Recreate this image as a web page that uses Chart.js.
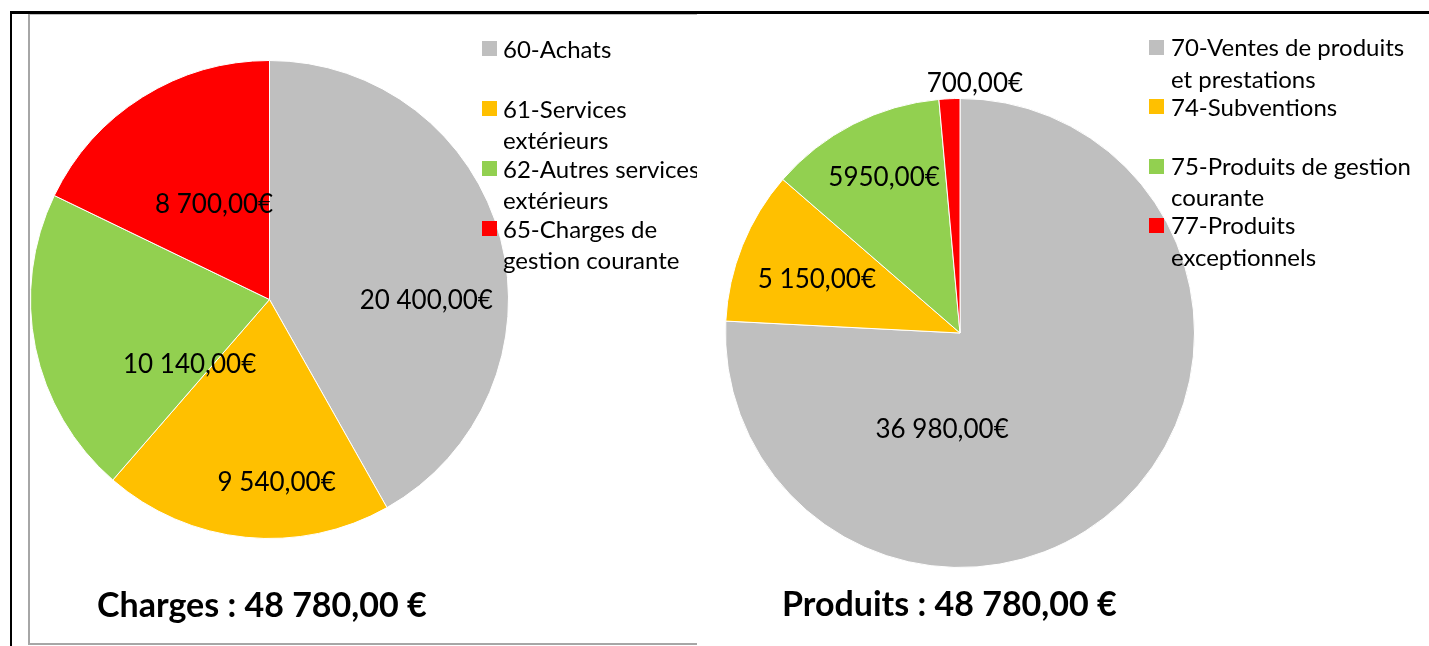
<!DOCTYPE html>
<html lang="fr">
<head>
<meta charset="utf-8">
<script src="https://cdn.jsdelivr.net/npm/chart.js@4/dist/chart.umd.min.js"></script>
<style>
  body { margin: 0; width: 1429px; height: 646px; position: relative; overflow: hidden; background: #fff; font-family: Lato, "Open Sans", sans-serif; }
  .panneau { position: absolute; top: 0; height: 646px; overflow: hidden; }
  #gauche { left: 0; width: 697px; }
  #droite { left: 697px; width: 732px; }
  .panneau canvas { position: absolute; left: 0; top: 0; }
  .legende { position: absolute; font-size: 24px; color: #000; white-space: nowrap; }
  .legende .carre { position: absolute; width: 15px; height: 15px; }
  .titre { position: absolute; font-weight: bold; font-size: 34px; line-height: 40px; color: #000; white-space: nowrap; }
  .trait { position: absolute; }
</style>
</head>
<body>
<div class="panneau" id="gauche"><canvas id="chartCharges" width="697" height="646"></canvas></div>
<div class="panneau" id="droite"><canvas id="chartProduits" width="732" height="646"></canvas></div>

<!-- cadres -->
<div class="trait" style="left:28px;top:14px;width:669px;height:1px;background:#bfbfbf"></div>
<div class="trait" style="left:28px;top:14px;width:2px;height:631px;background:#a6a6a6"></div>
<div class="trait" style="left:28px;top:643px;width:669px;height:2px;background:#a6a6a6"></div>
<div class="trait" style="left:10px;top:11px;width:1419px;height:3px;background:#000"></div>
<div class="trait" style="left:10px;top:11px;width:2px;height:635px;background:#000"></div>

<script>
// ---- données ----
const chargesCategories = [["60-Achats"], ["61-Services", "extérieurs"], ["62-Autres services", "extérieurs"], ["65-Charges de", "gestion courante"]];
const chargesValues = [20400, 9540, 10140, 8700];

const produitsCategories = [["70-Ventes de produits", "et prestations"], ["74-Subventions"], ["75-Produits de gestion", "courante"], ["77-Produits", "exceptionnels"]];
const produitsValues = [36980, 5150, 5950, 700];

const couleurs = ["#BFBFBF", "#FFC000", "#92D050", "#FF0000"];

// format "20 400,00"
function euros(v) {
  const parts = v.toFixed(2).split(".");
  return parts[0].replace(/\B(?=(\d{3})+(?!\d))/g, " ") + "," + parts[1];
}

const chargesTextes = chargesValues.map(v => euros(v) + "€");
const produitsTextes = produitsValues.map(v => euros(v) + "€");
produitsTextes[2] = "5950,00€"; // écrit ainsi dans l'original

// plugin pour les étiquettes de données (position relative au milieu de chaque part)
const etiquettesPlugin = {
  id: "etiquettes",
  afterDatasetsDraw(chart, args, opts) {
    const ctx = chart.ctx;
    const meta = chart.getDatasetMeta(0);
    ctx.save();
    ctx.font = "26px Lato, 'Open Sans', sans-serif";
    ctx.fillStyle = "#000";
    ctx.textAlign = "center";
    ctx.textBaseline = "middle";
    meta.data.forEach((arc, i) => {
      const a = (arc.startAngle + arc.endAngle) / 2 + opts.decalage[i] * Math.PI / 180;
      const r = arc.outerRadius * opts.rayon[i];
      ctx.fillText(opts.textes[i], arc.x + Math.cos(a) * r, arc.y + Math.sin(a) * r);
    });
    ctx.restore();
  }
};

function camembert(id, categories, values, padding, etiquettes) {
  const ctx = document.getElementById(id).getContext("2d");
  return new Chart(ctx, {
    type: "pie",
    data: {
      labels: categories.map(c => c.join(" ")),
      datasets: [{
        data: values,
        backgroundColor: couleurs,
        borderColor: "#ffffff",
        borderWidth: 1
      }]
    },
    options: {
      responsive: false,
      animation: false,
      devicePixelRatio: 1,
      layout: { padding: padding },
      plugins: {
        legend: { display: false },
        tooltip: { enabled: false },
        etiquettes: etiquettes
      }
    },
    plugins: [etiquettesPlugin]
  });
}

camembert("chartCharges", chargesCategories, chargesValues,
  { left: 30, top: 60, right: 188, bottom: 107 },
  { textes: chargesTextes, rayon: [0.656, 0.767, 0.432, 0.458], decalage: [15.2, -8, -27.7, 1.7] });

camembert("chartProduits", produitsCategories, produitsValues,
  { left: 28, top: 98, right: 234, bottom: 78 },
  { textes: produitsTextes, rayon: [0.42, 0.652, 0.738, 1.066], decalage: [54, -1.3, 1.1, 6] });

// légendes (html)
function legende(parent, categories, xCarre, xTexte, y0, pas, hauteurLigne) {
  const el = document.getElementById(parent);
  const decal = parent === "droite" ? 697 : 0;
  categories.forEach((lignes, i) => {
    const yc = y0 + i * pas;
    const carre = document.createElement("div");
    carre.className = "legende";
    carre.innerHTML = '<div class="carre" style="left:0;top:0;background:' + couleurs[i] + '"></div>';
    carre.style.left = (xCarre - decal) + "px";
    carre.style.top = (yc - 7) + "px";
    el.appendChild(carre);
    const txt = document.createElement("div");
    txt.className = "legende";
    txt.style.left = (xTexte - decal) + "px";
    txt.style.top = (yc - hauteurLigne / 2) + "px";
    txt.style.lineHeight = hauteurLigne + "px";
    txt.innerHTML = lignes.join("<br>");
    el.appendChild(txt);
  });
}
legende("gauche", chargesCategories, 482, 503, 48, 60, 31);
legende("droite", produitsCategories, 1149, 1171, 47, 59.3, 31.5);

// titres
function titre(texte, x, yc) {
  const t = document.createElement("div");
  t.className = "titre";
  t.textContent = texte;
  t.style.left = x + "px";
  t.style.top = (yc - 20) + "px";
  document.body.appendChild(t);
}
const somme = arr => arr.reduce((a, b) => a + b, 0);
titre("Charges : " + euros(somme(chargesValues)) + " €", 97, 604);
titre("Produits : " + euros(somme(produitsValues)) + " €", 782, 603);
</script>
</body>
</html>
